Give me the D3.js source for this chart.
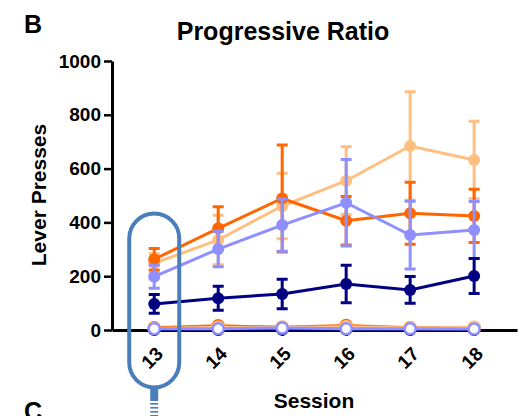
<!DOCTYPE html>
<html>
<head>
<meta charset="utf-8">
<script src="https://cdn.jsdelivr.net/npm/d3@7"></script>
<style>
  body { margin: 0; background: #fff; }
  text { font-family: "Liberation Sans", Arial, sans-serif; font-weight: bold; }
</style>
</head>
<body>
<svg id="chart" width="527" height="416"></svg>
<script>
const sessions = [13, 14, 15, 16, 17, 18];
const yTicks = [0, 200, 400, 600, 800, 1000];

// filled-circle groups (mean, sem)
const orangeMean = [263, 378, 489, 406, 434, 424];
const orangeSem  = [40, 80, 199, 90, 115, 99];
const tanMean    = [248, 335, 461, 555, 684, 632];
const tanSem     = [35, 92, 122, 126, 202, 144];
const lavMean    = [198, 301, 390, 473, 353, 372];
const lavSem     = [43, 66, 97, 161, 126, 106];
const navyMean   = [97, 118, 134, 171, 149, 201];
const navySem    = [35, 45, 55, 70, 50, 65];

// open-circle groups near zero
const orangeLow  = [8, 16, 10, 17, 8, 9];
const tanLow     = [6, 10, 8, 12, 7, 10];
const navyLow    = [1, 1, 2, 2, 1, 1];
const lavLow     = [5, 5, 7, 5, 5, 4];

const svg = d3.select("#chart");

const x = d3.scaleLinear().domain([12.34, 18.67]).range([112, 517]);
const y = d3.scaleLinear().domain([0, 1000]).range([330, 61]);

// panel letters and title
svg.append("text").attr("x", 24).attr("y", 33).attr("font-size", 25).text("B");
svg.append("text").attr("x", 24).attr("y", 420).attr("font-size", 25).text("C");
svg.append("text").attr("x", 283).attr("y", 40).attr("font-size", 25)
  .attr("text-anchor", "middle").text("Progressive Ratio");

// y axis
const yAxis = svg.append("g")
  .attr("transform", "translate(112,0)")
  .call(d3.axisLeft(y).tickValues(yTicks).tickFormat(d3.format("d"))
    .tickSize(8).tickSizeOuter(0).tickPadding(3));
yAxis.select(".domain").attr("stroke-width", 3);
yAxis.selectAll(".tick line").attr("stroke-width", 2.5);
yAxis.selectAll("text").attr("font-size", 19).attr("fill", "#000");

// x axis
const xAxis = svg.append("g")
  .attr("transform", "translate(0,330)")
  .call(d3.axisBottom(x).tickValues(sessions).tickSize(6).tickSizeOuter(0).tickFormat(""));
xAxis.select(".domain").attr("stroke-width", 3);
xAxis.selectAll(".tick line").attr("stroke-width", 2.5);

svg.selectAll(".xlab")
  .data(sessions)
  .enter()
  .append("text")
  .attr("transform", d => "translate(" + (x(d) - 2) + ",358)rotate(-45)")
  .attr("text-anchor", "middle")
  .attr("dominant-baseline", "central")
  .attr("font-size", 19)
  .text(d => d);

svg.append("text")
  .attr("transform", "translate(46,195)rotate(-90)")
  .attr("text-anchor", "middle")
  .attr("font-size", 21)
  .text("Lever Presses");

svg.append("text")
  .attr("x", 314).attr("y", 408)
  .attr("text-anchor", "middle")
  .attr("font-size", 21)
  .text("Session");

const line = d3.line().x((d, i) => x(sessions[i])).y(d => y(d));

function drawGroup(mean, sem, color) {
  const g = svg.append("g");
  g.selectAll(".err")
    .data(mean)
    .enter()
    .append("path")
    .attr("d", (d, i) => {
      const cx = x(sessions[i]), t = y(d + sem[i]), b = y(d - sem[i]);
      return "M" + cx + "," + t + "V" + b +
        "M" + (cx - 5.5) + "," + t + "H" + (cx + 5.5) +
        "M" + (cx - 5.5) + "," + b + "H" + (cx + 5.5);
    })
    .attr("stroke", color).attr("stroke-width", 3).attr("fill", "none");
  g.append("path").datum(mean).attr("d", line)
    .attr("stroke", color).attr("stroke-width", 3).attr("fill", "none");
  g.selectAll("circle")
    .data(mean)
    .enter()
    .append("circle")
    .attr("cx", (d, i) => x(sessions[i]))
    .attr("cy", d => y(d))
    .attr("r", 6)
    .attr("fill", color);
}

function drawLow(vals, color, open) {
  const g = svg.append("g");
  g.append("path").datum(vals).attr("d", line)
    .attr("stroke", color).attr("stroke-width", 3).attr("fill", "none");
  g.selectAll("circle")
    .data(vals)
    .enter()
    .append("circle")
    .attr("cx", (d, i) => x(sessions[i]))
    .attr("cy", d => y(d))
    .attr("r", open ? 5.5 : 5)
    .attr("fill", open ? "#fff" : color)
    .attr("stroke", color)
    .attr("stroke-width", 2.5);
}

drawGroup(tanMean, tanSem, "#ffbf80");
drawGroup(orangeMean, orangeSem, "#ff6600");
drawGroup(lavMean, lavSem, "#8f8fff");
drawGroup(navyMean, navySem, "#000080");

drawLow(orangeLow, "#ff6600", true);
drawLow(tanLow, "#ffbf80", true);
drawLow(navyLow, "#000080", false);
drawLow(lavLow, "#8f8fff", true);

// highlight around session 13
const ax = x(13);
svg.append("rect")
  .attr("x", ax - 25).attr("y", 213.5)
  .attr("width", 50).attr("height", 174)
  .attr("rx", 25).attr("ry", 25)
  .attr("fill", "none").attr("stroke", "#4a7ebb").attr("stroke-width", 4);
svg.append("rect")
  .attr("x", ax - 4).attr("y", 389).attr("width", 8).attr("height", 12)
  .attr("fill", "#4a7ebb");
[403, 407, 411, 415].forEach(yy => {
  svg.append("rect").attr("x", ax - 4).attr("y", yy).attr("width", 8).attr("height", 1.6)
    .attr("fill", "#4a7ebb");
});
</script>
</body>
</html>
